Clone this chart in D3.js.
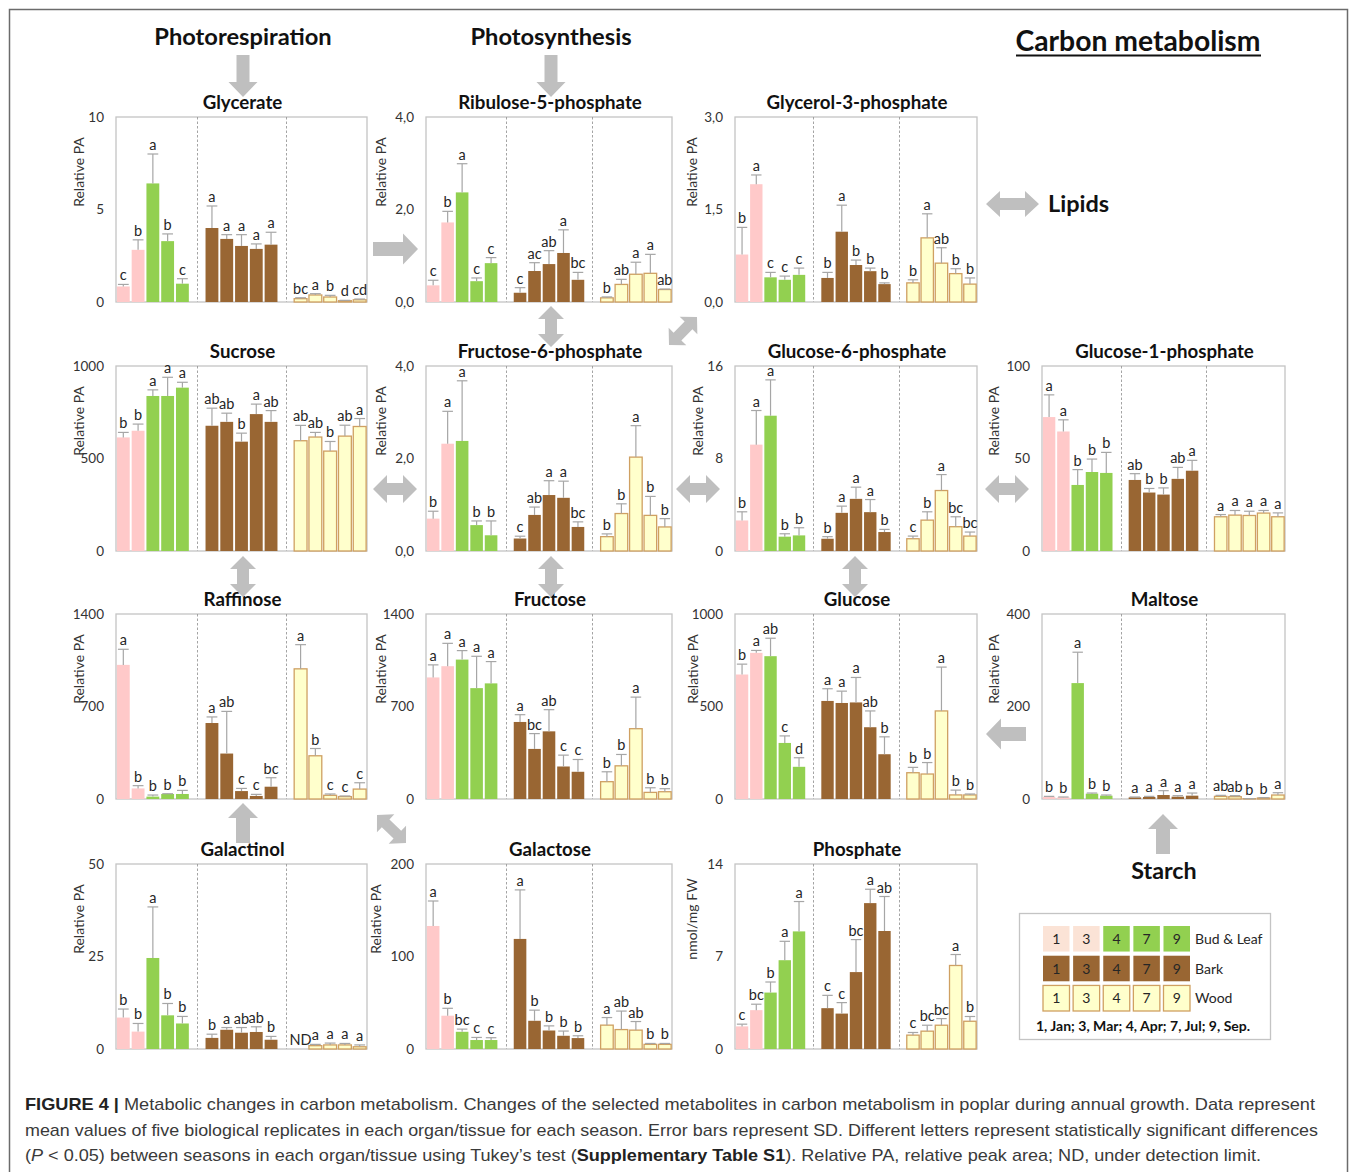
<!DOCTYPE html>
<html>
<head>
<meta charset="utf-8">
<script src="https://cdn.jsdelivr.net/npm/d3@7/dist/d3.min.js"></script>
<style>
  body { margin: 0; background: #fff; }
  text { font-family: Lato, "Open Sans", sans-serif; fill: #262626; }
</style>
</head>
<body>
<svg id="fig" width="1358" height="1172"></svg>
<script>
// seasons and tissues
var seasons = ["1", "3", "4", "7", "9"];
var tissues = ["Bud & Leaf", "Bark", "Wood"];
var seasonNote = "1, Jan; 3, Mar; 4, Apr; 7, Jul; 9, Sep.";

// values are 15 per metabolite: bud&leaf (1,3,4,7,9), bark (1,3,4,7,9), wood (1,3,4,7,9)
var glycerate    = [0.84, 2.82, 6.41, 3.29, 0.99, 4.00, 3.41, 3.03, 2.87, 3.10, 0.18, 0.38, 0.27, 0.07, 0.12];
var glycerateSD  = [0.11, 0.54, 1.59, 0.39, 0.27, 1.19, 0.23, 0.61, 0.27, 0.67, 0.05, 0.07, 0.09, 0.02, 0.04];
var glycerateSig = ["c","b","a","b","c","a","a","a","a","a","bc","a","b","d","cd"];

var ribulose    = [0.36, 1.72, 2.37, 0.45, 0.84, 0.20, 0.67, 0.82, 1.06, 0.48, 0.09, 0.38, 0.60, 0.62, 0.27];
var ribuloseSD  = [0.11, 0.24, 0.62, 0.07, 0.12, 0.11, 0.18, 0.29, 0.50, 0.16, 0.02, 0.11, 0.26, 0.41, 0.01];
var ribuloseSig = ["c","b","a","c","c","c","ac","ab","a","bc","b","ab","a","a","ab"];

var glycerol3p    = [0.77, 1.91, 0.40, 0.36, 0.44, 0.39, 1.14, 0.60, 0.50, 0.29, 0.31, 1.04, 0.63, 0.46, 0.29];
var glycerol3pSD  = [0.44, 0.15, 0.08, 0.06, 0.11, 0.09, 0.43, 0.08, 0.05, 0.02, 0.05, 0.39, 0.25, 0.08, 0.10];
var glycerol3pSig = ["b","a","c","c","c","b","a","b","b","b","b","a","ab","b","b"];

var sucrose    = [614, 650, 838, 838, 883, 677, 698, 591, 740, 698, 596, 616, 540, 621, 673];
var sucroseSD  = [27, 36, 33, 101, 29, 95, 47, 46, 54, 61, 83, 25, 52, 59, 43];
var sucroseSig = ["b","b","a","a","a","ab","ab","b","a","ab","ab","ab","b","ab","a"];

var fructose6p    = [0.70, 2.32, 2.38, 0.56, 0.34, 0.27, 0.78, 1.21, 1.15, 0.52, 0.31, 0.81, 2.03, 0.77, 0.52];
var fructose6pSD  = [0.16, 0.70, 1.30, 0.09, 0.31, 0.05, 0.17, 0.31, 0.36, 0.11, 0.06, 0.21, 0.68, 0.41, 0.18];
var fructose6pSig = ["b","a","a","b","b","c","ab","a","a","bc","b","b","a","b","b"];

var glucose6p    = [2.64, 9.2, 11.7, 1.24, 1.35, 1.06, 3.3, 4.51, 3.36, 1.64, 1.06, 2.67, 5.23, 2.1, 1.29];
var glucose6pSD  = [0.75, 2.95, 3.1, 0.25, 0.66, 0.18, 0.58, 1.01, 1.09, 0.23, 0.23, 0.72, 1.38, 0.86, 0.35];
var glucose6pSig = ["b","a","a","b","b","b","a","a","a","b","c","b","a","bc","bc"];

var glucose1p    = [72.4, 64.6, 35.7, 42.7, 42.2, 38.4, 31.6, 30.5, 39.0, 43.4, 18.5, 19.4, 19.2, 20.5, 18.5];
var glucose1pSD  = [12.0, 6.3, 8.3, 7.0, 11.1, 3.4, 2.2, 3.6, 6.2, 5.6, 1.2, 2.5, 2.3, 1.4, 2.1];
var glucose1pSig = ["a","a","b","b","b","ab","b","b","ab","a","a","a","a","a","a"];

var raffinose    = [1015, 80, 18, 38, 38, 575, 344, 60, 23, 93, 985, 327, 28, 18, 75];
var raffinoseSD  = [118, 21, 12, 2, 27, 46, 319, 20, 12, 68, 183, 55, 10, 5, 48];
var raffinoseSig = ["a","b","b","b","b","a","ab","c","c","bc","a","b","c","c","c"];

var fructose    = [920, 1005, 1055, 839, 875, 583, 379, 512, 246, 206, 131, 251, 532, 50, 55];
var fructoseSD  = [95, 173, 68, 241, 165, 55, 116, 164, 86, 93, 75, 86, 239, 35, 23];
var fructoseSig = ["a","a","a","a","a","a","bc","ab","c","c","b","b","a","b","b"];

var glucose    = [673, 790, 772, 303, 174, 530, 519, 522, 388, 242, 142, 135, 476, 22, 22];
var glucoseSD  = [56, 13, 97, 38, 49, 66, 64, 135, 88, 94, 29, 62, 237, 26, 5];
var glucoseSig = ["b","a","ab","c","d","a","a","a","ab","b","b","b","a","b","b"];

var maltose    = [4.3, 3.6, 250.6, 11.5, 7.2, 3.6, 4.3, 8.6, 5.0, 7.2, 5.7, 5.0, 0.7, 2.2, 8.6];
var maltoseSD  = [1.4, 0.7, 66.8, 1.4, 1.4, 0.7, 1.4, 9.4, 2.2, 5.7, 2.2, 2.2, 0, 0.7, 5.0];
var maltoseSig = ["b","b","a","b","b","a","a","a","a","a","ab","ab","b","b","a"];

var galactinol    = [8.5, 4.7, 24.6, 9.1, 6.9, 3.0, 5.2, 4.4, 4.6, 2.5, null, 0.9, 1.1, 1.1, 0.6];
var galactinolSD  = [2.3, 2.2, 13.8, 3.2, 1.9, 1.0, 0.6, 1.4, 1.4, 0.9, null, 0.35, 0.5, 0.4, 0.5];
var galactinolSig = ["b","b","a","b","b","b","a","ab","ab","b","ND","a","a","a","a"];

var galactose    = [133, 36, 18.6, 9.7, 9.7, 119, 30.5, 20, 14.3, 11.8, 25.8, 21, 20.4, 5, 5];
var galactoseSD  = [27, 8, 2.9, 2.8, 2.5, 53, 11.5, 5, 5.1, 2.5, 8.2, 20, 9.3, 1, 1];
var galactoseSig = ["a","b","bc","c","c","a","b","b","b","b","a","ab","ab","b","b"];

var phosphate    = [1.71, 2.94, 4.27, 6.72, 8.9, 3.09, 2.68, 5.82, 11.04, 8.93, 1.05, 1.35, 1.8, 6.32, 2.1];
var phosphateSD  = [0.17, 0.45, 0.8, 1.43, 2.26, 0.97, 0.83, 2.46, 1.05, 2.61, 0.2, 0.45, 0.5, 0.83, 0.36];
var phosphateSig = ["c","bc","b","a","a","c","c","bc","a","ab","c","bc","bc","a","b"];

// axis ticks per panel (labels as printed)
var ticks10   = ["0", "5", "10"];
var ticks4    = ["0,0", "2,0", "4,0"];
var ticks3    = ["0,0", "1,5", "3,0"];
var ticks1000 = ["0", "500", "1000"];
var ticks16   = ["0", "8", "16"];
var ticks100  = ["0", "50", "100"];
var ticks1400 = ["0", "700", "1400"];
var ticks400  = ["0", "200", "400"];
var ticks50   = ["0", "25", "50"];
var ticks200  = ["0", "100", "200"];
var ticks14   = ["0", "7", "14"];

var panels = [
  {name: "Glycerate", max: 10, ticks: ticks10, v: glycerate, sd: glycerateSD, sig: glycerateSig, unit: "Relative PA", row: 0, col: 0, ldx: -32},
  {name: "Ribulose-5-phosphate", max: 4, ticks: ticks4, v: ribulose, sd: ribuloseSD, sig: ribuloseSig, unit: "Relative PA", row: 0, col: 1, ldx: -40},
  {name: "Glycerol-3-phosphate", max: 3, ticks: ticks3, v: glycerol3p, sd: glycerol3pSD, sig: glycerol3pSig, unit: "Relative PA", row: 0, col: 2, ldx: -38},
  {name: "Sucrose", max: 1000, ticks: ticks1000, v: sucrose, sd: sucroseSD, sig: sucroseSig, unit: "Relative PA", row: 1, col: 0, ldx: -32},
  {name: "Fructose-6-phosphate", max: 4, ticks: ticks4, v: fructose6p, sd: fructose6pSD, sig: fructose6pSig, unit: "Relative PA", row: 1, col: 1, ldx: -40},
  {name: "Glucose-6-phosphate", max: 16, ticks: ticks16, v: glucose6p, sd: glucose6pSD, sig: glucose6pSig, unit: "Relative PA", row: 1, col: 2, ldx: -32},
  {name: "Glucose-1-phosphate", max: 100, ticks: ticks100, v: glucose1p, sd: glucose1pSD, sig: glucose1pSig, unit: "Relative PA", row: 1, col: 3, ldx: -43},
  {name: "Raffinose", max: 1400, ticks: ticks1400, v: raffinose, sd: raffinoseSD, sig: raffinoseSig, unit: "Relative PA", row: 2, col: 0, ldx: -32},
  {name: "Fructose", max: 1400, ticks: ticks1400, v: fructose, sd: fructoseSD, sig: fructoseSig, unit: "Relative PA", row: 2, col: 1, ldx: -40},
  {name: "Glucose", max: 1000, ticks: ticks1000, v: glucose, sd: glucoseSD, sig: glucoseSig, unit: "Relative PA", row: 2, col: 2, ldx: -37},
  {name: "Maltose", max: 400, ticks: ticks400, v: maltose, sd: maltoseSD, sig: maltoseSig, unit: "Relative PA", row: 2, col: 3, ldx: -43},
  {name: "Galactinol", max: 50, ticks: ticks50, v: galactinol, sd: galactinolSD, sig: galactinolSig, unit: "Relative PA", row: 3, col: 0, ldx: -32},
  {name: "Galactose", max: 200, ticks: ticks200, v: galactose, sd: galactoseSD, sig: galactoseSig, unit: "Relative PA", row: 3, col: 1, ldx: -45},
  {name: "Phosphate", max: 14, ticks: ticks14, v: phosphate, sd: phosphateSD, sig: phosphateSig, unit: "nmol/mg FW", row: 3, col: 2, ldx: -38}
];

// layout
var colLeft = [116, 426, 735, 1042];
var colWidth = [251, 246, 242, 243];
var rowTop = [117, 366, 614, 864];
var plotH = 185;

var fills = {
  bud: function(i) { return i < 2 ? "#ffc9c9" : "#92d050"; },
  bark: "#996633",
  wood: "#ffffcc"
};

var svg = d3.select("#fig");

// outer figure frame
svg.append("rect")
  .attr("x", 9.5).attr("y", 9.5)
  .attr("width", 1338).attr("height", 1200)
  .attr("fill", "none").attr("stroke", "#6b6b6b").attr("stroke-width", 1.5);

// draw each panel
panels.forEach(function(p) {
  var left = colLeft[p.col], top = rowTop[p.row], plotW = colWidth[p.col];
  var g = svg.append("g");

  var x = d3.scaleBand()
    .domain(d3.range(17))
    .range([left, left + plotW])
    .paddingInner(0.13)
    .paddingOuter(0.06);
  var y = d3.scaleLinear()
    .domain([0, p.max])
    .range([top + plotH, top]);

  var slot = function(i) { return Math.floor(i / 5) * 6 + (i % 5); };

  // frame of plot area
  g.append("rect")
    .attr("x", left).attr("y", top)
    .attr("width", plotW).attr("height", plotH)
    .attr("fill", "none").attr("stroke", "#c4c4c4").attr("stroke-width", 1.3);

  // dashed separators between tissues
  [5, 11].forEach(function(s) {
    var xs = Math.round(x(s) + x.bandwidth() / 2) + 0.5;
    g.append("line")
      .attr("x1", xs).attr("x2", xs)
      .attr("y1", top).attr("y2", top + plotH)
      .attr("stroke", "#9a9a9a").attr("stroke-width", 0.9)
      .attr("stroke-dasharray", "2.5,2");
  });

  // y axis tick labels
  var tickVals = [0, p.max / 2, p.max];
  var yAxis = d3.axisLeft(y)
    .tickValues(tickVals)
    .tickSize(0)
    .tickPadding(12)
    .tickFormat(function(d, i) { return p.ticks[i]; });
  var ax = g.append("g")
    .attr("transform", "translate(" + left + ",0)")
    .call(yAxis);
  ax.select(".domain").remove();
  ax.selectAll(".tick text")
    .style("font-family", "Lato, 'Open Sans', sans-serif")
    .style("font-size", "13.5px")
    .style("fill", "#333");

  // y axis title
  g.append("text")
    .attr("transform", "translate(" + (left + p.ldx) + "," + (top + 55) + ") rotate(-90)")
    .attr("text-anchor", "middle")
    .style("font-size", "14px")
    .style("fill", "#333")
    .text(p.unit);

  // panel title
  g.append("text")
    .attr("x", left + plotW / 2 + 1)
    .attr("y", top - 8)
    .attr("text-anchor", "middle")
    .style("font-size", "18.7px")
    .style("font-weight", "bold")
    .style("fill", "#111")
    .text(p.name);

  var data = p.v.map(function(v, i) {
    return {i: i, v: v, sd: p.sd[i], sig: p.sig[i], tissue: Math.floor(i / 5), s: i % 5};
  });
  var present = data.filter(function(d) { return d.v !== null; });

  // bars
  g.selectAll("rect.bar")
    .data(present)
    .enter().append("rect")
      .attr("class", "bar")
      .attr("x", function(d) { return x(slot(d.i)); })
      .attr("width", x.bandwidth())
      .attr("y", function(d) { return y(d.v); })
      .attr("height", function(d) { return y(0) - y(d.v); })
      .attr("fill", function(d) {
        return d.tissue === 0 ? fills.bud(d.s) : d.tissue === 1 ? fills.bark : fills.wood;
      })
      .attr("stroke", function(d) { return d.tissue === 2 ? "#cfa062" : "none"; })
      .attr("stroke-width", 1.3);

  // error bars
  var cap = x.bandwidth() * 0.42;
  present.forEach(function(d) {
    var cx = x(slot(d.i)) + x.bandwidth() / 2;
    var yt = y(d.v + d.sd);
    g.append("line")
      .attr("x1", cx).attr("x2", cx)
      .attr("y1", y(d.v)).attr("y2", yt)
      .attr("stroke", "#a6a6a6").attr("stroke-width", 1.2);
    g.append("line")
      .attr("x1", cx - cap).attr("x2", cx + cap)
      .attr("y1", yt).attr("y2", yt)
      .attr("stroke", "#a6a6a6").attr("stroke-width", 1.2);
  });

  // significance letters
  g.selectAll("text.sig")
    .data(data)
    .enter().append("text")
      .attr("class", "sig")
      .attr("x", function(d) { return x(slot(d.i)) + x.bandwidth() / 2; })
      .attr("y", function(d) { return d.v === null ? y(0) - 4 : y(d.v + d.sd) - 4; })
      .attr("text-anchor", "middle")
      .style("font-size", "14.5px")
      .style("fill", "#262626")
      .text(function(d) { return d.sig; });
});

// block arrows
function arrow(x1, y1, x2, y2, both, sw, hw, hl) {
  var L = Math.hypot(x2 - x1, y2 - y1);
  var ang = Math.atan2(y2 - y1, x2 - x1) * 180 / Math.PI;
  var pts;
  if (both) {
    pts = [[0, 0], [hl, -hw], [hl, -sw], [L - hl, -sw], [L - hl, -hw], [L, 0],
           [L - hl, hw], [L - hl, sw], [hl, sw], [hl, hw]];
  } else {
    pts = [[0, -sw], [L - hl, -sw], [L - hl, -hw], [L, 0], [L - hl, hw], [L - hl, sw], [0, sw]];
  }
  svg.append("path")
    .attr("d", d3.line()(pts) + "Z")
    .attr("transform", "translate(" + x1 + "," + y1 + ") rotate(" + ang + ")")
    .attr("fill", "#bfbfbf");
}

arrow(243, 55, 243, 97, false, 6.5, 14.5, 15);
arrow(551, 55, 551, 97, false, 6.5, 14.5, 15);
arrow(373, 249, 418, 249, false, 7, 15.5, 15);
arrow(986, 204, 1039, 204, true, 6, 13, 14);
arrow(551, 306, 551, 347, true, 6, 13, 13);
arrow(669, 345, 697, 317, true, 5.5, 12.5, 12);
arrow(373, 489, 417, 489, true, 6, 14, 14);
arrow(676, 489, 720, 489, true, 6, 14, 14);
arrow(985, 489, 1029, 489, true, 6, 14, 14);
arrow(243, 556, 243, 597, true, 6, 13, 13);
arrow(551, 556, 551, 597, true, 6, 13, 13);
arrow(855, 556, 855, 597, true, 6, 13, 13);
arrow(1026, 734, 986, 734, false, 7, 15.5, 15);
arrow(243, 843, 243, 803, false, 7, 15, 15);
arrow(377, 815, 406, 843, true, 5.5, 12.5, 12);
arrow(1163, 854, 1163, 814, false, 7, 15, 15);

// pathway labels
function label(txt, x, y, size, anchor) {
  return svg.append("text")
    .attr("x", x).attr("y", y)
    .attr("text-anchor", anchor || "middle")
    .style("font-size", size + "px")
    .style("font-weight", "bold")
    .style("fill", "#111")
    .text(txt);
}
label("Photorespiration", 243, 45, 23.7);
label("Photosynthesis", 551, 45, 23.7);
label("Lipids", 1048, 212, 23.5, "start");
label("Starch", 1164, 879, 23.3);
label("Carbon metabolism", 1138, 51, 28.3);
svg.append("line")
  .attr("x1", 1016).attr("x2", 1261)
  .attr("y1", 55.5).attr("y2", 55.5)
  .attr("stroke", "#111").attr("stroke-width", 2);

// legend
var lg = svg.append("g");
lg.append("rect")
  .attr("x", 1019.5).attr("y", 913.5)
  .attr("width", 251).attr("height", 126)
  .attr("fill", "#fff").attr("stroke", "#c4c4c4").attr("stroke-width", 1.3);

var legX = d3.scaleBand().domain(seasons).range([1043, 1190]).paddingInner(0.12);
var legY = d3.scaleBand().domain(tissues).range([926, 1011]).paddingInner(0.14);
var legendFill = function(t, i) {
  if (t === 0) return i < 2 ? "#fbe3d6" : "#92d050";
  return t === 1 ? "#996633" : "#ffffcc";
};
tissues.forEach(function(t, ti) {
  seasons.forEach(function(s, si) {
    lg.append("rect")
      .attr("x", legX(s)).attr("y", legY(t))
      .attr("width", legX.bandwidth()).attr("height", legY.bandwidth())
      .attr("fill", legendFill(ti, si))
      .attr("stroke", ti === 2 ? "#cfa062" : "none").attr("stroke-width", 1.3);
    lg.append("text")
      .attr("x", legX(s) + legX.bandwidth() / 2)
      .attr("y", legY(t) + legY.bandwidth() / 2 + 5)
      .attr("text-anchor", "middle")
      .style("font-size", "14px")
      .style("fill", "#262626")
      .text(s);
  });
  lg.append("text")
    .attr("x", 1195)
    .attr("y", legY(t) + legY.bandwidth() / 2 + 5)
    .style("font-size", "14px")
    .style("fill", "#262626")
    .text(t);
});
lg.append("text")
  .attr("x", 1143).attr("y", 1031)
  .attr("text-anchor", "middle")
  .style("font-size", "14px")
  .style("font-weight", "bold")
  .style("fill", "#111")
  .text(seasonNote);

// caption
var capLines = [
  [["FIGURE 4 | ", true], ["Metabolic changes in carbon metabolism. Changes of the selected metabolites in carbon metabolism in poplar during annual growth. Data represent", false]],
  [["mean values of five biological replicates in each organ/tissue for each season. Error bars represent SD. Different letters represent statistically significant differences", false]],
  [["(", false], ["P", false, true], [" < 0.05) between seasons in each organ/tissue using Tukey\u2019s test (", false], ["Supplementary Table S1", true], ["). Relative PA, relative peak area; ND, under detection limit.", false]]
];
var capWidths = [1290, 1293, 1236];
capLines.forEach(function(parts, li) {
  var t = svg.append("text")
    .attr("x", 25).attr("y", 1110 + li * 25.5)
    .attr("textLength", capWidths[li])
    .attr("lengthAdjust", "spacingAndGlyphs")
    .style("font-family", "'Liberation Sans', Arial, sans-serif")
    .style("font-size", "17px")
    .style("fill", "#3a3a3a");
  parts.forEach(function(pt) {
    t.append("tspan")
      .style("font-weight", pt[1] ? "bold" : "normal")
      .style("font-style", pt[2] ? "italic" : "normal")
      .style("fill", pt[1] ? "#222" : "#3a3a3a")
      .text(pt[0]);
  });
});
</script>
</body>
</html>
